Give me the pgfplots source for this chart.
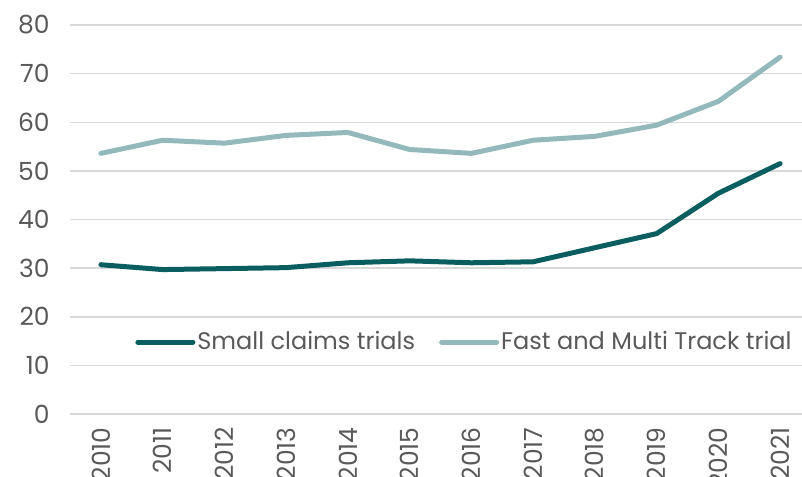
\documentclass[border=0pt]{standalone}
\usepackage{pgfplots}
\pgfplotsset{compat=1.18}
\usepackage{fontspec}
\setmainfont{Poppins}
\definecolor{darkteal}{HTML}{0A5E60}
\definecolor{lightteal}{HTML}{93B9BD}
\definecolor{txtgray}{HTML}{595959}
\definecolor{gridgray}{HTML}{D9D9D9}
\begin{document}
\begin{tikzpicture}
\begin{axis}[
  scale only axis,
  width=370.5pt, height=194.5pt,
  xmin=-0.5, xmax=11.5, ymin=0, ymax=80,
  xtick={0,...,11},
  xticklabels={2010,2011,2012,2013,2014,2015,2016,2017,2018,2019,2020,2021},
  ytick={0,10,...,80},
  axis line style={draw=none},
  major tick length=0pt,
  ymajorgrids,
  grid style={gridgray, line width=0.75pt},
  /pgf/number format/assume math mode=true,
  tick label style={font=\fontsize{12.5}{15}\selectfont, text=txtgray, inner sep=0pt},
  xticklabel style={rotate=90, anchor=east},
  yticklabel style={anchor=east},
  xticklabel shift=6.5pt,
  yticklabel shift=10pt,
  legend columns=2,
  legend style={draw=none, fill=none, at={(rel axis cs:0.0877,0.185)}, anchor=west,
    font=\fontsize{12}{14}\selectfont, text=txtgray, inner sep=0pt,
    nodes={inner sep=1pt},
    /tikz/every even column/.append style={column sep=11pt}},
  legend image code/.code={\draw[#1] (0pt,0pt) -- (27.5pt,0pt);},
  clip=false,
]
\addplot[darkteal, line width=2.5pt, line cap=round, line join=round] coordinates {
(0,30.7) (1,29.7) (2,29.9) (3,30.1) (4,31.1) (5,31.5) (6,31.1) (7,31.3) (8,34.2) (9,37.1) (10,45.4) (11,51.5)};
\addlegendentry{Small claims trials}
\addplot[lightteal, line width=2.5pt, line cap=round, line join=round] coordinates {
(0,53.6) (1,56.3) (2,55.7) (3,57.3) (4,57.9) (5,54.4) (6,53.6) (7,56.3) (8,57.1) (9,59.4) (10,64.3) (11,73.4)};
\addlegendentry{Fast and Multi Track trial}
\coordinate (SW) at (rel axis cs:0,0);
\coordinate (NE) at (rel axis cs:1,1);
\end{axis}
\pgfresetboundingbox
\useasboundingbox ([shift={(-35pt,-31pt)}]SW) rectangle ([shift={(-4.5pt,12.5pt)}]NE);
\end{tikzpicture}
\end{document}
